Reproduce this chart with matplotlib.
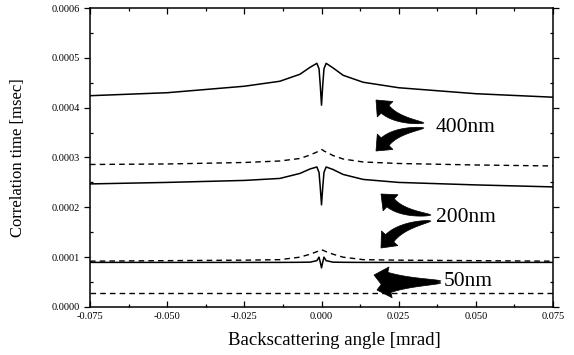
import numpy as np
import matplotlib
matplotlib.use("Agg")
import matplotlib.pyplot as plt
from matplotlib.patches import Polygon
from matplotlib.ticker import MultipleLocator, FormatStrFormatter

# backscattering angle [mrad] sample points
angle = [-0.075, -0.05, -0.025, -0.0135, -0.007, -0.0037, -0.0015, -0.0008, -0.0004, 0.0,
         0.0004, 0.0008, 0.0015, 0.0037, 0.007, 0.0135, 0.025, 0.05, 0.075]

# correlation time [msec]
t400_solid = [0.000424, 0.000430, 0.000443, 0.000453, 0.000467, 0.000481, 0.000489, 0.000478, 0.000445, 0.000405,
              0.000445, 0.000478, 0.000489, 0.000480, 0.000465, 0.000451, 0.000440, 0.000428, 0.000421]
t400_dash = [0.000286, 0.000287, 0.000290, 0.000293, 0.000298, 0.000305, 0.000311, 0.000313, 0.000315, 0.000316,
             0.000315, 0.000313, 0.000311, 0.000304, 0.000297, 0.000291, 0.000288, 0.000285, 0.000283]
t200_solid = [0.000247, 0.000250, 0.000254, 0.000258, 0.000268, 0.000277, 0.000281, 0.000270, 0.000240, 0.000205,
              0.000240, 0.000270, 0.000281, 0.000276, 0.000266, 0.000256, 0.000250, 0.000245, 0.000241]
t200_dash = [0.000092, 0.000093, 0.000094, 0.000095, 0.000100, 0.000106, 0.000111, 0.000113, 0.000114, 0.000115,
             0.000114, 0.000113, 0.000111, 0.000106, 0.000100, 0.000095, 0.000094, 0.000093, 0.000092]
t50_solid = [0.0000895, 0.0000895, 0.0000895, 0.0000895, 0.0000897, 0.0000900, 0.0000930, 0.0001000, 0.000090, 0.0000785,
             0.000090, 0.0001000, 0.0000930, 0.0000900, 0.0000897, 0.0000895, 0.0000895, 0.0000895, 0.0000895]
t50_dash = [0.000028] * len(angle)

labels = ["400nm", "200nm", "50nm"]

plt.rcParams['font.family'] = ['Liberation Serif', 'DejaVu Serif']

fig = plt.figure(figsize=(5.74, 3.55), dpi=100)
ax = fig.add_axes([90 / 574, 48 / 355, 463 / 574, 299 / 355])

for ys in (t400_solid, t200_solid, t50_solid):
    ax.plot(angle, ys, color="black", lw=1.1)
for ys in (t400_dash, t200_dash, t50_dash):
    ax.plot(angle, ys, color="black", lw=1.0, ls=(0, (4, 3)))

ax.set_xlim(-0.075, 0.075)
ax.set_ylim(0, 0.0006)
ax.xaxis.set_major_locator(MultipleLocator(0.025))
ax.xaxis.set_minor_locator(MultipleLocator(0.0125))
ax.yaxis.set_major_locator(MultipleLocator(0.0001))
ax.yaxis.set_minor_locator(MultipleLocator(0.00005))
ax.xaxis.set_major_formatter(FormatStrFormatter("%.3f"))
ax.yaxis.set_major_formatter(FormatStrFormatter("%.4f"))
ax.tick_params(which="both", direction="in", top=True, right=True, labelsize=7.5, length=4, width=0.9)
ax.tick_params(which="minor", length=2.5)
ax.tick_params(axis="y", which="major", direction="out", length=4)
for s in ax.spines.values():
    s.set_linewidth(1.1)

ax.set_xlabel("Backscattering angle [mrad]", fontsize=13.5)
ax.xaxis.set_label_coords(0.527, -0.085)
ax.set_ylabel("Correlation time [msec]", fontsize=12)
ax.yaxis.set_label_coords(-0.138, 0.5)


# curved swoosh arrows, drawn in reference pixel positions -> axes fraction
def frac(p):
    return ((p[0] - 90) / 463, (307 - p[1]) / 299)


def swoosh(tail, tip, bend, w_body=11, head_w=22, head_len=13):
    P0 = np.array(tail, float)
    P3 = np.array(tip, float)
    d = P3 - P0
    L = np.hypot(*d)
    n = np.array([-d[1], d[0]]) / L
    C = (P0 + P3) / 2 + bend * L * n
    e = (P3 - C) / np.hypot(*(P3 - C))
    ne = np.array([-e[1], e[0]])
    B = P3 - head_len * e
    left, right = [], []
    for t in np.linspace(0, 1, 30):
        pt = (1 - t) ** 2 * P0 + 2 * (1 - t) * t * C + t ** 2 * B
        tg = 2 * (1 - t) * (C - P0) + 2 * t * (B - C)
        tg = tg / np.hypot(*tg)
        nn = np.array([-tg[1], tg[0]])
        w = w_body * t ** 0.6 / 2
        left.append(pt + w * nn)
        right.append(pt - w * nn)
    pts = left + [B + head_w / 2 * ne, P3, B - head_w / 2 * ne] + right[::-1]
    return Polygon([frac(p) for p in pts], closed=True, transform=ax.transAxes,
                   facecolor="black", edgecolor="black", lw=0.5)


arrows = [
    ((424, 123), (376, 100), -0.18),
    ((424, 128), (376, 151), 0.18),
    ((431, 215), (381, 194), -0.18),
    ((431, 221), (381, 248), 0.18),
    ((441, 281), (374, 275), -0.06),
    ((441, 283), (377, 290), 0.06),
]
for tail, tip, bend in arrows:
    ax.add_patch(swoosh(tail, tip, bend))

for lab, p in zip(labels, [(436, 128), (436, 217), (444, 282)]):
    ax.text(*frac(p), lab, transform=ax.transAxes, fontsize=15.5, va="center", ha="left")

fig.savefig("out.png", dpi=100)
